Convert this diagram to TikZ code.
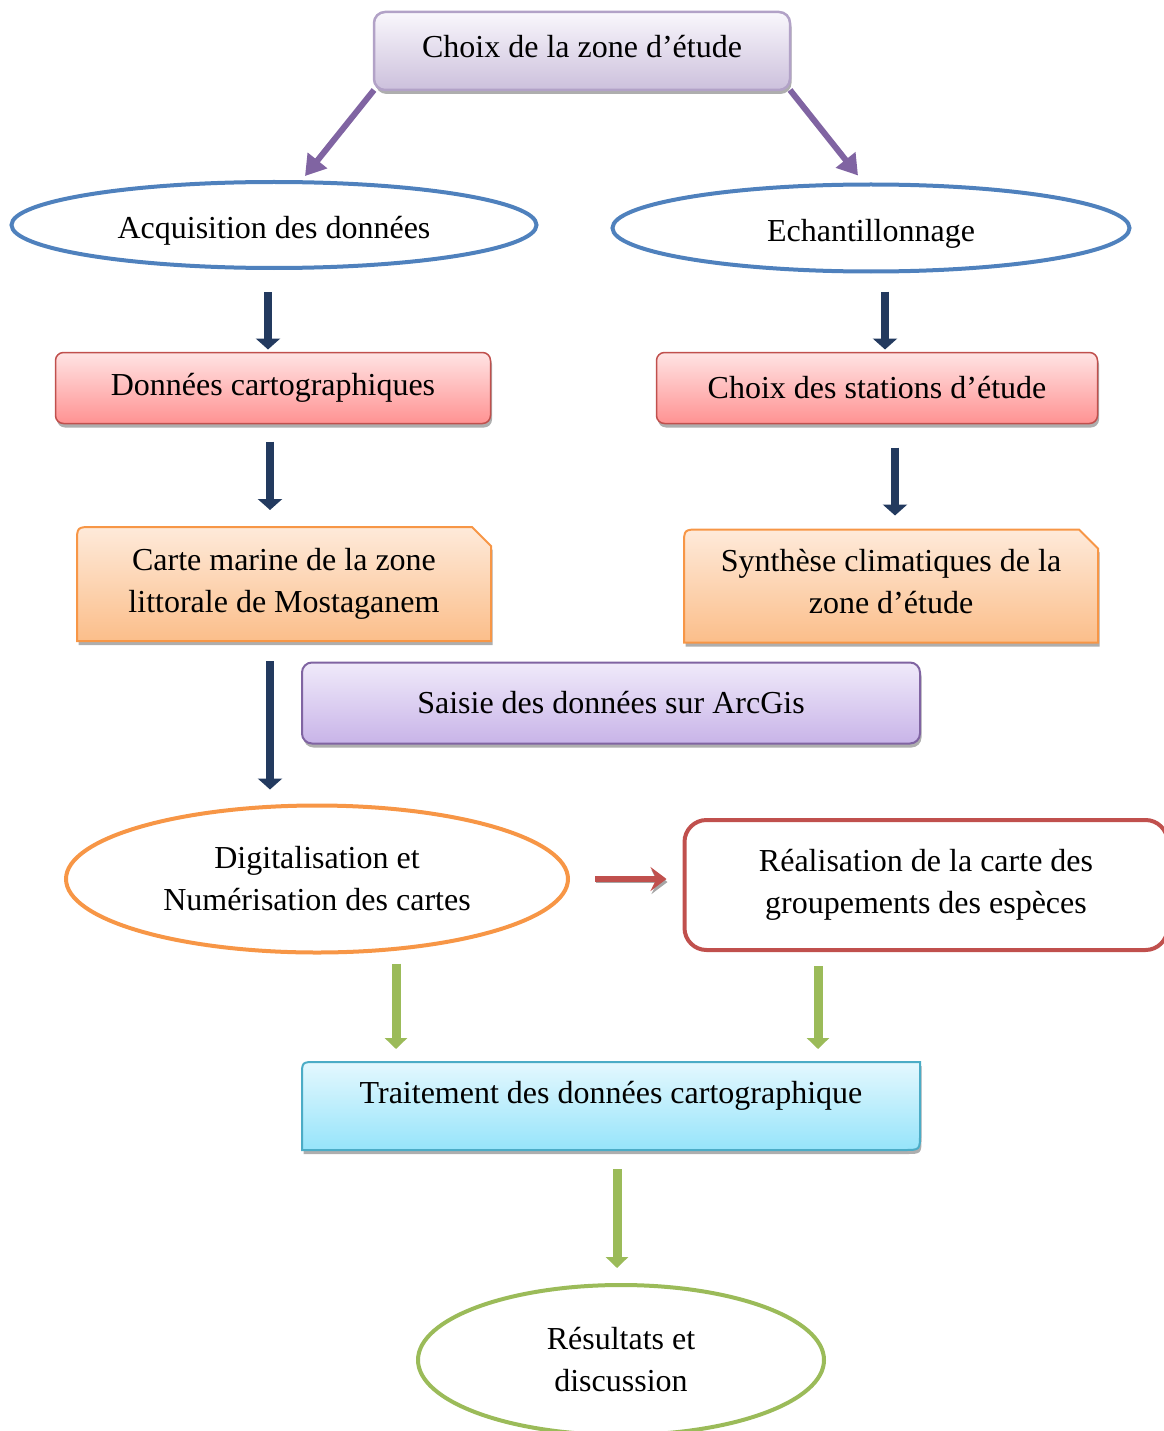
\documentclass[tikz,border=0pt]{standalone}
\usepackage{fontspec}
\setmainfont{Liberation Serif}
\usetikzlibrary{arrows.meta,shapes.geometric,shadows,backgrounds}
\definecolor{lavtop}{RGB}{249,247,252}
\definecolor{lavbot}{RGB}{204,192,220}
\definecolor{lavborder}{RGB}{178,162,199}
\definecolor{ellblue}{RGB}{79,129,189}
\definecolor{pinktop}{RGB}{255,228,228}
\definecolor{pinkbot}{RGB}{255,146,146}
\definecolor{boxred}{RGB}{192,80,77}
\definecolor{orangetop}{RGB}{254,234,218}
\definecolor{orangebot}{RGB}{251,190,138}
\definecolor{boxorange}{RGB}{247,150,70}
\definecolor{violettop}{RGB}{240,234,250}
\definecolor{violetbot}{RGB}{200,180,232}
\definecolor{violetborder}{RGB}{128,100,162}
\definecolor{cyantop}{RGB}{228,248,254}
\definecolor{cyanbot}{RGB}{150,228,250}
\definecolor{cyanborder}{RGB}{75,172,198}
\definecolor{navy}{RGB}{35,58,95}
\definecolor{leafgreen}{RGB}{155,187,89}
\definecolor{arrowpurple}{RGB}{128,100,162}

\begin{document}
\begin{tikzpicture}[x=1pt,y=-1pt,
    every node/.style={font=\fontsize{32}{42}\selectfont,align=center,outer sep=0pt},
    softshadow/.style={drop shadow={shadow xshift=1.5pt,shadow yshift=-4pt,fill=black!45,opacity=.7}},
    lavbox/.style={rectangle,rounded corners=11pt,draw=lavborder,line width=2.5pt,
      top color=lavtop,bottom color=lavbot,softshadow},
    pinkbox/.style={rectangle,rounded corners=8pt,draw=boxred,line width=1.5pt,
      top color=pinktop,bottom color=pinkbot,softshadow},
    violetbox/.style={rectangle,rounded corners=10pt,draw=violetborder,line width=2pt,
      top color=violettop,bottom color=violetbot,softshadow},
    redframe/.style={rectangle,rounded corners=22pt,draw=boxred,line width=4pt,fill=white},
    plainbox/.style={rectangle,inner sep=0pt},
    blueell/.style={ellipse,draw=ellblue,line width=4pt,fill=white,inner sep=0pt},
    orangeell/.style={ellipse,draw=boxorange,line width=4pt,fill=white,inner sep=0pt},
    greenell/.style={ellipse,draw=leafgreen,line width=4pt,fill=white,inner sep=0pt},
    orangefill/.style={draw=boxorange,line width=2pt,top color=orangetop,bottom color=orangebot,softshadow},
    cyanfill/.style={draw=cyanborder,line width=2pt,top color=cyantop,bottom color=cyanbot,softshadow},
    purplearrow/.style={draw=arrowpurple,line width=6pt,-{Triangle[length=20pt,width=24pt]}},
    navyarrow/.style={draw=navy,line width=8pt,-{Triangle[length=11pt,width=24pt]}},
    greenarrow/.style={draw=leafgreen,line width=9pt,-{Triangle[length=11pt,width=22pt]}},
    redarrow/.style={draw=boxred,line width=6pt,-{Stealth[length=16pt,width=24pt,inset=6pt]},
      preaction={draw=black!35,transform canvas={xshift=1pt,yshift=-3pt}}}]
  \useasboundingbox (0,0) rectangle (1163,1431);

  % boxes and ellipses
  \node[lavbox,minimum width=416pt,minimum height=78pt,text depth=10pt] (choix) at (582,51)
    {Choix de la zone d’étude};
  \node[blueell,minimum width=525pt,minimum height=86pt,text height=34pt] (acq) at (274,225)
    {Acquisition des données};
  \node[blueell,minimum width=517pt,minimum height=87pt,text height=34pt] (ech) at (871,228)
    {Echantillonnage};
  \node[pinkbox,minimum width=435pt,minimum height=71pt] (dca) at (273,388) {Données cartographiques};
  \node[pinkbox,minimum width=441pt,minimum height=71pt] (sta) at (877,388) {Choix des stations d’étude};
  \node[plainbox,minimum width=414pt,minimum height=114pt] (carte) at (284,584)
    {Carte marine de la zone\\littorale de Mostaganem};
  \node[plainbox,minimum width=414pt,minimum height=113pt,text depth=10pt] (synth) at (891,586)
    {Synthèse climatiques de la\\zone d’étude};
  \node[violetbox,minimum width=618pt,minimum height=81pt] (saisie) at (611,703) {Saisie des données sur ArcGis};
  \node[orangeell,minimum width=502pt,minimum height=147pt] (digit) at (317,879)
    {Digitalisation et\\Numérisation des cartes};
  \node[redframe,minimum width=483pt,minimum height=130pt] (real) at (926,885)
    {Réalisation de la carte des\\groupements des espèces};
  \node[plainbox,minimum width=618pt,minimum height=88pt,text height=22pt,text depth=28pt] (trait) at (611,1106)
    {Traitement des données cartographique};
  \node[greenell,minimum width=406pt,minimum height=150pt] (res) at (621,1360) {Résultats et\\discussion};

  % cut and rounded corners behind the text
  \begin{scope}[on background layer]
    \shadedraw[orangefill] (carte.south west) -- ([yshift=-16pt]carte.north west)
      .. controls (carte.north west) .. ([xshift=16pt]carte.north west)
      -- ([xshift=-19pt]carte.north east) -- ([yshift=-19pt]carte.north east)
      -- (carte.south east) -- cycle;
    \shadedraw[orangefill] (synth.south west) -- ([yshift=-16pt]synth.north west)
      .. controls (synth.north west) .. ([xshift=16pt]synth.north west)
      -- ([xshift=-19pt]synth.north east) -- ([yshift=-19pt]synth.north east)
      -- (synth.south east) -- cycle;
    \shadedraw[cyanfill] (trait.south west) -- ([yshift=-14pt]trait.north west)
      .. controls (trait.north west) .. ([xshift=14pt]trait.north west)
      -- (trait.north east) -- ([yshift=16pt]trait.south east)
      .. controls (trait.south east) .. ([xshift=-16pt]trait.south east) -- cycle;
  \end{scope}

  % arrows
  \draw[purplearrow] (choix.south west) -- ([xshift=31pt,yshift=6pt]acq.north);
  \draw[purplearrow] (choix.south east) -- ([xshift=-13pt,yshift=9pt]ech.north);
  \draw[navyarrow] ([xshift=-6pt,yshift=-24pt]acq.south) -- ([xshift=-5pt,yshift=3pt]dca.north);
  \draw[navyarrow] ([xshift=14pt,yshift=-20pt]ech.south) -- ([xshift=8pt,yshift=3pt]sta.north);
  \draw[navyarrow] ([xshift=-3pt,yshift=-18pt]dca.south) -- ([xshift=-14pt,yshift=17pt]carte.north);
  \draw[navyarrow] ([xshift=18pt,yshift=-24pt]sta.south) -- ([xshift=4pt,yshift=14pt]synth.north);
  \draw[navyarrow] ([xshift=-14pt,yshift=-20pt]carte.south) -- ([xshift=-47pt,yshift=16pt]digit.north);
  \draw[redarrow] ([xshift=27pt]digit.east) -- ([xshift=-18pt,yshift=6pt]real.west);
  \draw[greenarrow] ([xshift=79pt,yshift=-11pt]digit.south) -- ([xshift=-215pt,yshift=13pt]trait.north);
  \draw[greenarrow] ([xshift=-108pt,yshift=-16pt]real.south) -- ([xshift=207pt,yshift=13pt]trait.north);
  \draw[greenarrow] ([xshift=6pt,yshift=-19pt]trait.south) -- ([xshift=-4pt,yshift=17pt]res.north);
\end{tikzpicture}
\end{document}
